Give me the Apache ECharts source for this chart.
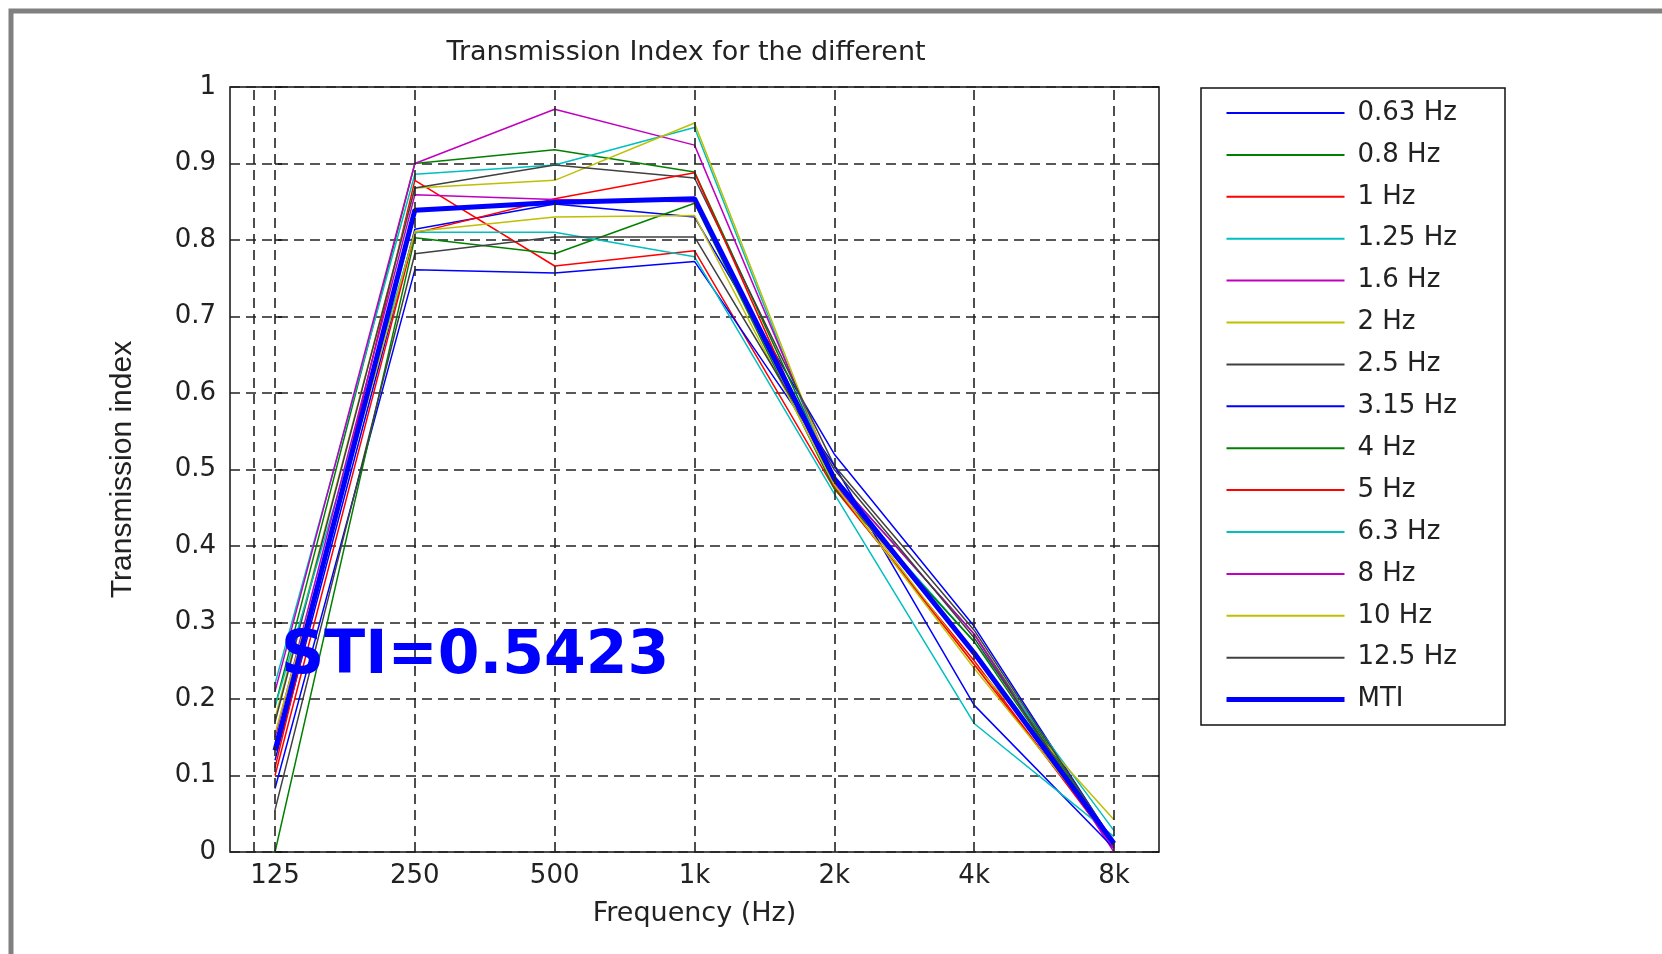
<!DOCTYPE html>
<html>
<head>
<meta charset="utf-8">
<title>Transmission Index</title>
<script src="https://cdn.jsdelivr.net/npm/echarts@6/dist/echarts.min.js"></script>
<style>
  html, body { margin: 0; padding: 0; background: #fff; }
  #chart { width: 1662px; height: 954px; }
</style>
</head>
<body>
<div id="chart"></div>
<script>
// octave band centres (x axis)
const freqHz = [125, 250, 500, 1000, 2000, 4000, 8000]
const freqLabels = ['125', '250', '500', '1k', '2k', '4k', '8k']

// modulation frequencies (legend)
const modNames = ['0.63 Hz', '0.8 Hz', '1 Hz', '1.25 Hz', '1.6 Hz', '2 Hz', '2.5 Hz',
  '3.15 Hz', '4 Hz', '5 Hz', '6.3 Hz', '8 Hz', '10 Hz', '12.5 Hz']
const modColors = ['#0000ff', '#008000', '#ff0000', '#00bfbf', '#bf00bf', '#bfbf00', '#404040',
  '#0000ff', '#008000', '#ff0000', '#00bfbf', '#bf00bf', '#bfbf00', '#404040']

// transmission index per modulation frequency, one value per octave band
const ti063 = [0.120, 0.814, 0.847, 0.830, 0.520, 0.295, 0.012]
const ti08 = [0.190, 0.900, 0.918, 0.889, 0.490, 0.285, 0.010]
const ti1 = [0.110, 0.878, 0.766, 0.786, 0.475, 0.250, 0.006]
const ti125 = [0.220, 0.886, 0.898, 0.947, 0.480, 0.275, 0.028]
const ti16 = [0.210, 0.900, 0.971, 0.924, 0.490, 0.285, 0.000]
const ti2 = [0.175, 0.868, 0.878, 0.953, 0.485, 0.245, 0.042]
const ti25 = [0.170, 0.868, 0.898, 0.881, 0.505, 0.290, 0.012]
const ti315 = [0.083, 0.761, 0.757, 0.772, 0.505, 0.192, 0.005]
const ti4 = [0.000, 0.803, 0.782, 0.848, 0.475, 0.275, 0.008]
const ti5 = [0.100, 0.809, 0.854, 0.888, 0.478, 0.245, 0.010]
const ti63 = [0.190, 0.810, 0.810, 0.778, 0.468, 0.168, 0.020]
const ti8 = [0.150, 0.859, 0.853, 0.850, 0.482, 0.260, 0.005]
const ti10 = [0.155, 0.811, 0.830, 0.832, 0.480, 0.240, 0.015]
const ti125b = [0.055, 0.782, 0.804, 0.804, 0.500, 0.280, 0.008]
const mti = [0.133, 0.839, 0.849, 0.854, 0.488, 0.260, 0.011]

const stiText = 'STI=0.5423'

// x axis is log2 of frequency (octaves above 125 Hz), limits 100 Hz .. 10 kHz
const oct = f => Math.log2(f / 125)
const xMin = oct(100)
const xMax = oct(10000)
const gridFreqs = [113].concat(freqHz) // matlab also draws one extra dashed line left of 125

const modData = [ti063, ti08, ti1, ti125, ti16, ti2, ti25, ti315, ti4, ti5, ti63, ti8, ti10, ti125b]
const pts = arr => arr.map((v, i) => [oct(freqHz[i]), v])

const font = 'DejaVu Sans, Arial, sans-serif'
const narrow = 'Liberation Sans, Arial, sans-serif'

const series = [{
  // only used for the vertical dashed grid
  type: 'line',
  data: [],
  z: 1,
  silent: true,
  markLine: {
    silent: true,
    symbol: 'none',
    label: { show: false },
    lineStyle: { color: '#222', width: 1.6, type: [10, 6] },
    data: gridFreqs.map(f => ({ xAxis: oct(f) }))
  }
}]
modNames.forEach((name, i) => {
  series.push({
    name: name,
    type: 'line',
    symbol: 'none',
    z: 2,
    lineStyle: { color: modColors[i], width: 1.5 },
    itemStyle: { color: modColors[i] },
    data: pts(modData[i])
  })
})
series.push({
  name: 'MTI',
  type: 'line',
  symbol: 'none',
  z: 3,
  lineStyle: { color: '#0000ff', width: 5 },
  itemStyle: { color: '#0000ff' },
  data: pts(mti)
})

// legend entries: plain line samples, MTI drawn thick
const legendData = modNames.map(n => ({ name: n }))
legendData.push({ name: 'MTI', lineStyle: { width: 5 } })

const chart = echarts.init(document.getElementById('chart'))
chart.setOption({
  animation: false,
  backgroundColor: '#fff',
  grid: {
    left: 230, top: 87, width: 929, height: 765,
    show: true, borderColor: '#111', borderWidth: 1.5, backgroundColor: 'transparent'
  },
  legend: {
    data: legendData,
    orient: 'vertical',
    left: 1224,
    top: 100,
    padding: 0,
    itemWidth: 118,
    itemHeight: 14,
    itemGap: 15.9,
    selectedMode: false,
    itemStyle: { opacity: 0 },
    textStyle: { fontFamily: font, fontSize: 26, lineHeight: 26, color: '#222', padding: [0, 0, 0, 8] }
  },
  xAxis: {
    type: 'value',
    min: xMin,
    max: xMax,
    name: 'Frequency (Hz)',
    nameLocation: 'middle',
    nameGap: 48,
    nameTextStyle: { fontFamily: font, fontSize: 27, color: '#222' },
    axisLine: { show: false },
    axisTick: { show: false },
    splitLine: { show: false },
    axisLabel: {
      customValues: freqHz.map(oct),
      formatter: v => freqLabels[Math.round(v)],
      fontFamily: font, fontSize: 26, color: '#222', margin: 11
    }
  },
  yAxis: [{
    type: 'value',
    min: 0,
    max: 1,
    interval: 0.1,
    name: 'Transmission index',
    nameLocation: 'middle',
    nameGap: 92,
    nameTextStyle: { fontFamily: narrow, fontSize: 30, color: '#222' },
    axisLine: { show: false },
    axisTick: { show: true, inside: true, length: 7, lineStyle: { color: '#111', width: 1.5 } },
    splitLine: { show: true, lineStyle: { color: '#222', width: 1.6, type: [10, 6] } },
    axisLabel: {
      formatter: v => (Math.round(v * 10) / 10).toString(),
      fontFamily: font, fontSize: 26, color: '#222', margin: 14
    }
  }, {
    type: 'value',
    min: 0,
    max: 1,
    interval: 0.1,
    position: 'right',
    axisLine: { show: false },
    axisTick: { show: true, inside: true, length: 7, lineStyle: { color: '#111', width: 1.5 } },
    splitLine: { show: false },
    axisLabel: { show: false }
  }],
  graphic: [
    { type: 'rect', z: 0, shape: { x: 11, y: 11, width: 1720, height: 1000 },
      style: { fill: null, stroke: '#808080', lineWidth: 5 } },
    { type: 'rect', z: 0, shape: { x: 1201, y: 88, width: 304, height: 637 },
      style: { fill: null, stroke: '#111', lineWidth: 1.5 } },
    { type: 'text', z: 10, x: 686, y: 53,
      style: { text: 'Transmission Index for the different', fill: '#222', font: '27px ' + font,
        textAlign: 'center', textVerticalAlign: 'middle' } },
    { type: 'text', z: 10, x: 281, y: 657,
      style: { text: stiText, fill: '#0000ff', font: 'bold 60px ' + font,
        textAlign: 'left', textVerticalAlign: 'middle' } }
  ],
  series: series
})
</script>
</body>
</html>
